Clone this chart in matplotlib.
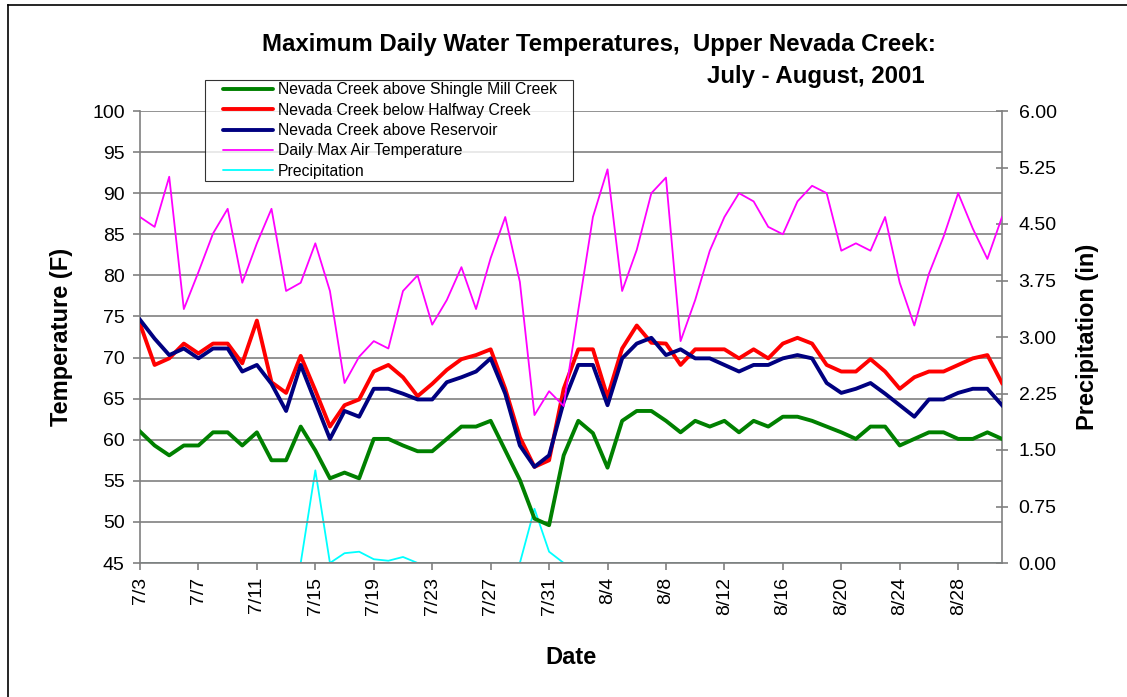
import numpy as np
import matplotlib
matplotlib.use("Agg")
import matplotlib.pyplot as plt
from matplotlib.lines import Line2D
from matplotlib.legend_handler import HandlerBase

plt.rcParams['font.family'] = ['Liberation Sans', 'DejaVu Sans']

dates = [f"7/{d}" for d in range(3, 32)] + [f"8/{d}" for d in range(1, 32)]

shingle_mill = [61.0, 59.3, 58.1, 59.3, 59.3, 60.9, 60.9, 59.3, 60.9, 57.5,
                57.5, 61.6, 58.7, 55.3, 56.0, 55.3, 60.1, 60.1, 59.3, 58.6,
                58.6, 60.1, 61.6, 61.6, 62.3, 58.7, 55.1, 50.4, 49.6, 58.1,
                62.3, 60.8, 56.6, 62.3, 63.5, 63.5, 62.3, 60.9, 62.3, 61.6,
                62.3, 60.9, 62.3, 61.6, 62.8, 62.8, 62.3, 61.6, 60.9, 60.1,
                61.6, 61.6, 59.3, 60.1, 60.9, 60.9, 60.1, 60.1, 60.9, 60.1]
halfway = [74.1, 69.1, 69.9, 71.7, 70.5, 71.7, 71.7, 69.3, 74.5, 67.0,
           65.7, 70.2, 66.0, 61.6, 64.2, 64.9, 68.3, 69.1, 67.6, 65.3,
           66.8, 68.5, 69.8, 70.3, 71.0, 66.2, 60.3, 56.7, 57.5, 66.2,
           71.0, 71.0, 65.2, 71.1, 73.9, 71.8, 71.7, 69.1, 71.0, 71.0,
           71.0, 69.9, 71.0, 69.9, 71.7, 72.4, 71.7, 69.1, 68.3, 68.3,
           69.8, 68.3, 66.2, 67.6, 68.3, 68.3, 69.1, 69.9, 70.3, 66.9]
reservoir = [74.6, 72.3, 70.3, 71.1, 69.9, 71.1, 71.1, 68.3, 69.1, 66.8,
             63.5, 69.1, 64.6, 60.1, 63.5, 62.8, 66.2, 66.2, 65.6, 64.9,
             64.9, 67.0, 67.6, 68.3, 69.9, 65.6, 59.3, 56.7, 58.1, 64.6,
             69.1, 69.1, 64.2, 69.9, 71.7, 72.4, 70.3, 71.0, 69.9, 69.9,
             69.1, 68.3, 69.1, 69.1, 69.9, 70.3, 69.9, 66.9, 65.7, 66.2,
             66.9, 65.6, 64.2, 62.8, 64.9, 64.9, 65.7, 66.2, 66.2, 64.2]
air_temp = [87.1, 85.9, 92.0, 75.9, 80.4, 85.1, 88.1, 79.1, 83.9, 88.1,
            78.1, 79.1, 83.9, 78.1, 66.9, 70.1, 72.0, 71.1, 78.1, 80.0,
            74.0, 77.0, 81.0, 75.9, 82.1, 87.1, 79.2, 63.0, 65.9, 64.1,
            75.8, 87.1, 92.9, 78.1, 83.1, 90.0, 91.9, 72.0, 77.0, 83.0,
            87.1, 90.0, 89.0, 85.9, 85.0, 89.0, 90.9, 90.0, 83.0, 83.9,
            83.0, 87.1, 79.1, 73.9, 80.2, 84.7, 90.0, 85.7, 82.0, 87.1]
precip = [0, 0, 0, 0, 0, 0, 0, 0, 0, 0,
          0, 0, 1.23, 0, 0.13, 0.15, 0.05, 0.03, 0.08, 0,
          0, 0, 0, 0, 0, 0, 0, 0.72, 0.15, 0,
          0, 0, 0, 0, 0, 0, 0, 0, 0, 0,
          0, 0, 0, 0, 0, 0, 0, 0, 0, 0,
          0, 0, 0, 0, 0, 0, 0, 0, 0, 0]

labels = ["Nevada Creek above Shingle Mill Creek", "Nevada Creek below Halfway Creek",
          "Nevada Creek above Reservoir", "Daily Max Air Temperature", "Precipitation"]
colors = ["#008000", "#FF0000", "#000080", "#FF00FF", "#00FFFF"]
THICK, THIN = 2.8, 1.3

W, H = 1127, 697
fig = plt.figure(figsize=(W / 100, H / 100), dpi=100)
ax = fig.add_axes([140 / W, 1 - 563 / H, (1002 - 140) / W, (563 - 111) / H])
ax2 = ax.twinx()
ax.set_zorder(ax2.get_zorder() + 1)
ax.patch.set_visible(False)

x = np.arange(len(dates))
gray = "#808080"
ax.set_ylim(45, 100)
ax.set_xlim(0, len(dates) - 1)
ax.set_yticks(np.arange(45, 101, 5))
ax.yaxis.grid(True, color=gray, linewidth=1.2)
ax.set_axisbelow(True)
for s in ["top", "right"]:
    ax.spines[s].set_visible(False)
for s in ["left", "bottom"]:
    ax.spines[s].set_color(gray)
    ax.spines[s].set_linewidth(1.2)

ax.plot(x, shingle_mill, color=colors[0], lw=THICK, zorder=3)
ax.plot(x, halfway, color=colors[1], lw=THICK, zorder=4)
ax.plot(x, reservoir, color=colors[2], lw=THICK, zorder=5)
ax.plot(x, air_temp, color=colors[3], lw=THIN, zorder=6)

ax2.set_ylim(0, 6)
pt = np.arange(0, 6.01, 0.75)
ax2.set_yticks(pt)
ax2.set_yticklabels([f"{v:.2f}" for v in pt])
ax2.plot(x, precip, color=colors[4], lw=THIN, zorder=3)
for s in ["top", "left", "bottom"]:
    ax2.spines[s].set_visible(False)
ax2.spines["right"].set_color(gray)
ax2.spines["right"].set_linewidth(1.2)

tick_idx = list(range(0, len(dates), 4))
ax.set_xticks(tick_idx)
ax.set_xticklabels([dates[i] for i in tick_idx], rotation=90)

ax.tick_params(axis="y", direction="out", length=5, width=1.2, color=gray, labelsize=14, pad=6)
ax.tick_params(axis="x", direction="out", length=5, width=1.2, color=gray, labelsize=14, pad=5)
ax2.tick_params(axis="y", direction="inout", length=8, width=1.2, color=gray, labelsize=14, pad=8)

ax.set_ylabel("Temperature (F)", fontsize=17, fontweight="bold", labelpad=14)
ax2.set_ylabel("Precipitation (in)", fontsize=17, fontweight="bold", labelpad=14)
ax.set_xlabel("Date", fontsize=17, fontweight="bold", labelpad=22)

fig.text(599 / W, 1 - 45 / H, "Maximum Daily Water Temperatures,  Upper Nevada Creek:",
         fontsize=17.3, fontweight="bold", ha="center", va="center")
fig.text(925 / W, 1 - 77 / H, "July - August, 2001",
         fontsize=17.3, fontweight="bold", ha="right", va="center")


class OffsetLineHandler(HandlerBase):
    def create_artists(self, legend, orig_handle, xdescent, ydescent, width, height,
                       fontsize, trans):
        y = height / 2 - ydescent
        x0 = -xdescent + 0.23 * width
        x1 = -xdescent + width
        ln = Line2D([x0, x1], [y, y], color=orig_handle.get_color(),
                    lw=orig_handle.get_linewidth(), solid_capstyle="round")
        ln.set_transform(trans)
        return [ln]


handles = [Line2D([], [], color=colors[i], lw=(THICK if i < 3 else THIN)) for i in range(5)]
leg = fig.legend(handles, labels, loc="upper left",
                 bbox_to_anchor=(205 / W, 1 - 183 / H, (573 - 205) / W, (183 - 80) / H),
                 mode="expand", fontsize=11.3, frameon=True, fancybox=False, shadow=False,
                 borderpad=0.15, labelspacing=0.34, handlelength=4.2, handletextpad=0.3,
                 borderaxespad=0, handler_map={Line2D: OffsetLineHandler()})
leg.get_frame().set_edgecolor("black")
leg.get_frame().set_linewidth(0.8)
leg.set_zorder(20)

# outer chart border (left and top visible)
fig.add_artist(Line2D([8 / W, 8 / W], [0, 1 - 5 / H], color="black", lw=1.2))
fig.add_artist(Line2D([8 / W, 1], [1 - 5 / H, 1 - 5 / H], color="black", lw=1.2))

fig.savefig("out.png", dpi=100)
